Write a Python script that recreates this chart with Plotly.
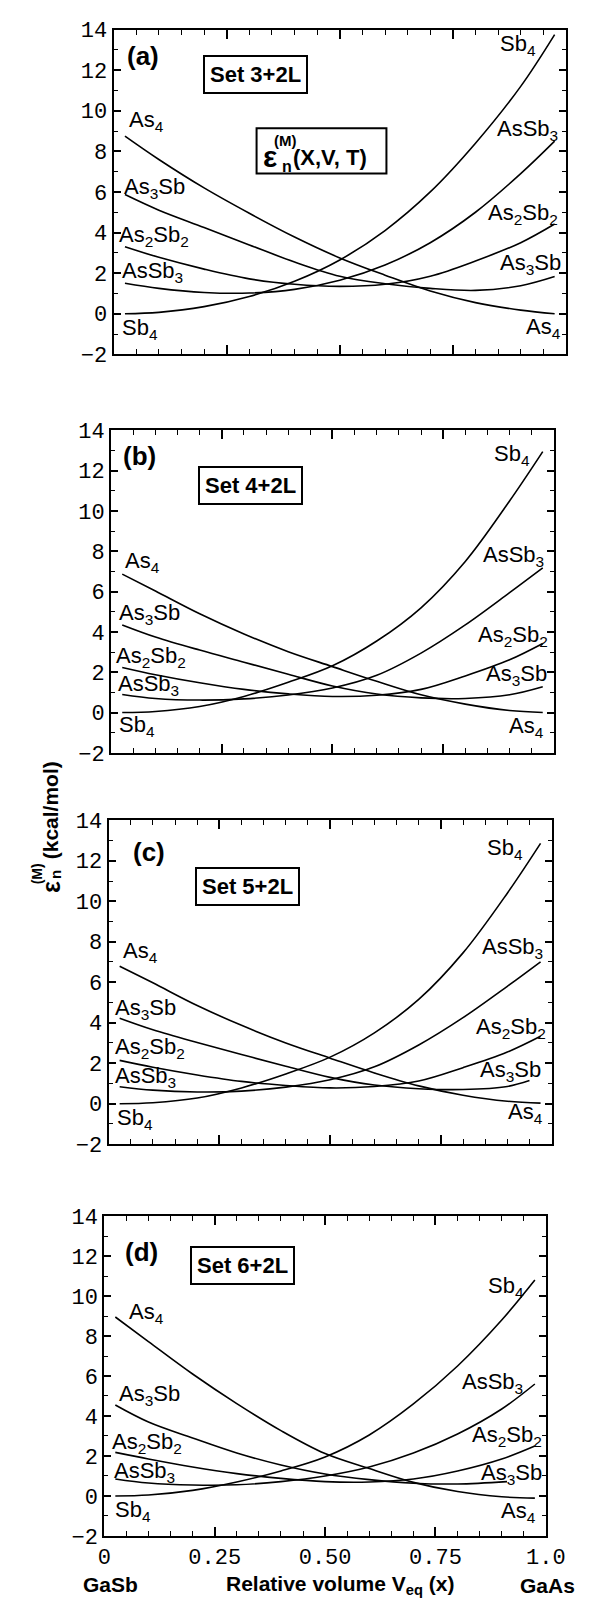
import plotly.graph_objects as go

# ---------------- data ----------------
X = [0.025, 0.1, 0.2, 0.3, 0.4, 0.5, 0.6, 0.7, 0.8, 0.9, 0.975]
X_c_As3Sb = [0.025, 0.1, 0.2, 0.3, 0.4, 0.5, 0.6, 0.7, 0.8, 0.9, 0.95]
X_d_As3Sb = [0.025, 0.1, 0.2, 0.3, 0.4, 0.5, 0.6, 0.7, 0.8, 0.912]

species = ["As4", "As3Sb", "As2Sb2", "AsSb3", "Sb4"]

a_As4 = [8.75, 7.6, 6.2, 4.95, 3.78, 2.75, 1.9, 1.12, 0.55, 0.18, 0.0]
a_As3Sb = [5.87, 5.1, 4.25, 3.39, 2.55, 1.85, 1.48, 1.25, 1.15, 1.38, 1.83]
a_As2Sb2 = [3.3, 2.78, 2.2, 1.72, 1.45, 1.35, 1.45, 1.85, 2.6, 3.5, 4.42]
a_AsSb3 = [1.5, 1.25, 1.05, 1.02, 1.2, 1.65, 2.4, 3.5, 5.0, 6.9, 8.5]
a_Sb4 = [0.0, 0.07, 0.35, 0.85, 1.6, 2.65, 4.1, 6.0, 8.4, 11.2, 13.75]

b_As4 = [6.87, 6.03, 4.9, 3.9, 3.02, 2.28, 1.55, 0.88, 0.42, 0.1, 0.0]
b_As3Sb = [4.35, 3.75, 3.1, 2.5, 1.9, 1.32, 0.92, 0.73, 0.7, 0.88, 1.28]
b_As2Sb2 = [2.24, 1.88, 1.48, 1.15, 0.93, 0.8, 0.86, 1.15, 1.82, 2.62, 3.43]
b_AsSb3 = [0.9, 0.7, 0.62, 0.68, 0.87, 1.22, 1.85, 2.95, 4.35, 5.95, 7.18]
b_Sb4 = [0.0, 0.05, 0.3, 0.8, 1.5, 2.32, 3.55, 5.2, 7.5, 10.5, 12.95]

c_As4 = [6.79, 5.97, 4.85, 3.87, 3.0, 2.25, 1.52, 0.88, 0.42, 0.12, 0.03]
c_As3Sb = [4.22, 3.65, 3.02, 2.43, 1.85, 1.3, 0.92, 0.74, 0.7, 0.85, 1.14]
c_As2Sb2 = [2.14, 1.8, 1.42, 1.1, 0.9, 0.78, 0.85, 1.12, 1.78, 2.55, 3.33]
c_AsSb3 = [0.84, 0.67, 0.58, 0.62, 0.82, 1.18, 1.82, 2.9, 4.25, 5.8, 7.01]
c_Sb4 = [0.0, 0.05, 0.28, 0.78, 1.47, 2.3, 3.5, 5.15, 7.45, 10.4, 12.86]

d_As4 = [8.95, 7.72, 6.1, 4.62, 3.27, 2.12, 1.37, 0.68, 0.22, -0.04, -0.11]
d_As3Sb = [4.55, 3.7, 2.9, 2.15, 1.55, 1.1, 0.82, 0.64, 0.6, 0.72]
d_As2Sb2 = [2.18, 1.85, 1.45, 1.12, 0.88, 0.72, 0.7, 0.85, 1.25, 1.85, 2.5]
d_AsSb3 = [0.85, 0.65, 0.55, 0.56, 0.72, 1.0, 1.45, 2.15, 3.1, 4.35, 5.6]
d_Sb4 = [0.0, 0.05, 0.28, 0.7, 1.25, 1.95, 3.05, 4.6, 6.5, 8.8, 10.8]

panel_letters = ["(a)", "(b)", "(c)", "(d)"]
set_names = ["Set 3+2L", "Set 4+2L", "Set 5+2L", "Set 6+2L"]
x_tickvals = [0, 0.25, 0.5, 0.75, 1.0]
x_ticktext = ["0", "0.25", "0.50", "0.75", "1.0"]
y_tickvals = [-2, 0, 2, 4, 6, 8, 10, 12, 14]
y_ticktext = ["\u22122", "0", "2", "4", "6", "8", "10", "12", "14"]

label_text = {"As4": "As<sub>4</sub>", "As3Sb": "As<sub>3</sub>Sb",
              "As2Sb2": "As<sub>2</sub>Sb<sub>2</sub>",
              "AsSb3": "AsSb<sub>3</sub>", "Sb4": "Sb<sub>4</sub>"}

panels = [
    {"xs": {s: X for s in species},
     "ys": {"As4": a_As4, "As3Sb": a_As3Sb, "As2Sb2": a_As2Sb2, "AsSb3": a_AsSb3, "Sb4": a_Sb4}},
    {"xs": {s: X for s in species},
     "ys": {"As4": b_As4, "As3Sb": b_As3Sb, "As2Sb2": b_As2Sb2, "AsSb3": b_AsSb3, "Sb4": b_Sb4}},
    {"xs": {**{s: X for s in species}, "As3Sb": X_c_As3Sb},
     "ys": {"As4": c_As4, "As3Sb": c_As3Sb, "As2Sb2": c_As2Sb2, "AsSb3": c_AsSb3, "Sb4": c_Sb4}},
    {"xs": {**{s: X for s in species}, "As3Sb": X_d_As3Sb},
     "ys": {"As4": d_As4, "As3Sb": d_As3Sb, "As2Sb2": d_As2Sb2, "AsSb3": d_AsSb3, "Sb4": d_Sb4}},
]

# ---------------- layout geometry (pixels in a 598x1604 page) ----------------
W, H = 598, 1604
frames = [  # left, right, top, bottom
    (103.3, 577.0, 11.7, 341.7),
    (100.7, 564.3, 419.0, 746.5),
    (98.0, 562.0, 815.0, 1144.0),
    (93.5, 556.0, 1217.0, 1542.0),
]
left_pos = [
    {"As4": (0.029, 9.5), "As3Sb": (0.018, 6.2), "As2Sb2": (0.007, 3.85), "AsSb3": (0.014, 2.05), "Sb4": (0.014, -0.75)},
    {"As4": (0.026, 7.46), "As3Sb": (0.013, 4.89), "As2Sb2": (0.007, 2.74), "AsSb3": (0.011, 1.35), "Sb4": (0.013, -0.65)},
    {"As4": (0.029, 7.47), "As3Sb": (0.011, 4.68), "As2Sb2": (0.011, 2.76), "AsSb3": (0.011, 1.3), "Sb4": (0.015, -0.76)},
    {"As4": (0.052, 9.13), "As3Sb": (0.029, 5.04), "As2Sb2": (0.013, 2.67), "AsSb3": (0.018, 1.19), "Sb4": (0.02, -0.74)},
]
right_pos = [
    {"Sb4": (0.939, 13.25), "AsSb3": (0.987, 9.05), "As2Sb2": (0.987, 4.92), "As3Sb": (0.994, 2.43), "As4": (0.994, -0.68)},
    {"Sb4": (0.95, 12.8), "AsSb3": (0.983, 7.75), "As2Sb2": (0.992, 3.8), "As3Sb": (0.99, 1.85), "As4": (0.983, -0.73)},
    {"Sb4": (0.941, 12.58), "AsSb3": (0.986, 7.68), "As2Sb2": (0.992, 3.73), "As3Sb": (0.98, 1.59), "As4": (0.986, -0.44)},
    {"Sb4": (0.955, 10.44), "AsSb3": (0.952, 5.63), "As2Sb2": (0.995, 3.0), "As3Sb": (0.995, 1.11), "As4": (0.983, -0.82)},
]
letter_pos = [(134, 39), (130, 445), (140, 847), (133, 1254)]
setbox_pos = [(252, 57.5), (246.5, 475), (243, 882), (238, 1267)]


def px(xp):
    return xp / W


def py(yp):
    return 1 - yp / H


SANS = "Liberation Sans"
MONO = "Liberation Mono"
LABEL_SIZE = 22

fig = go.Figure()
annotations = []
shapes = []
layout_axes = {}

for i, p in enumerate(panels):
    k = "" if i == 0 else str(i + 1)
    xa, ya = "x" + k, "y" + k
    for s in species:
        fig.add_trace(go.Scatter(
            x=p["xs"][s], y=p["ys"][s], mode="lines",
            line=dict(color="black", width=1.6, shape="spline", smoothing=1.0),
            xaxis=xa, yaxis=ya, showlegend=False, hoverinfo="skip"))
    l, r, t, b = frames[i]
    layout_axes["xaxis" + k] = dict(
        domain=[px(l), px(r)], range=[0, 1], anchor=ya,
        showline=True, linecolor="black", linewidth=2, mirror="ticks",
        ticks="inside", ticklen=9, tickwidth=1.5, tickcolor="black",
        tickvals=x_tickvals, ticktext=x_ticktext,
        showticklabels=(i == 3),
        tickfont=dict(family=MONO, size=22, color="black"),
        minor=dict(dtick=0.05, tick0=0, ticks="inside", ticklen=5, tickwidth=1.2, tickcolor="black"),
        showgrid=False, zeroline=False, fixedrange=True)
    layout_axes["yaxis" + k] = dict(
        domain=[py(b), py(t)], range=[-2, 14], anchor=xa,
        showline=True, linecolor="black", linewidth=2, mirror="ticks",
        ticks="inside", ticklen=7, tickwidth=1.5, tickcolor="black",
        tickvals=y_tickvals, ticktext=y_ticktext,
        tickfont=dict(family=MONO, size=22, color="black"),
        minor=dict(dtick=1, tick0=0, ticks="inside", ticklen=4, tickwidth=1.2, tickcolor="black"),
        showgrid=False, zeroline=False, fixedrange=True)

    for s in species:
        lx, ly = left_pos[i][s]
        annotations.append(dict(x=lx, y=ly, xref=xa, yref=ya, text=label_text[s],
                                showarrow=False, xanchor="left", yanchor="middle",
                                font=dict(family=SANS, size=LABEL_SIZE, color="black")))
        rx, ry = right_pos[i][s]
        annotations.append(dict(x=rx, y=ry, xref=xa, yref=ya, text=label_text[s],
                                showarrow=False, xanchor="right", yanchor="middle",
                                font=dict(family=SANS, size=LABEL_SIZE, color="black")))
    lx, ly = letter_pos[i]
    annotations.append(dict(x=px(lx), y=py(ly), xref="paper", yref="paper",
                            text="<b>%s</b>" % panel_letters[i], showarrow=False,
                            xanchor="center", yanchor="middle",
                            font=dict(family=SANS, size=26, color="black")))
    sx, sy = setbox_pos[i]
    annotations.append(dict(x=px(sx), y=py(sy), xref="paper", yref="paper",
                            text="<b>%s</b>" % set_names[i], showarrow=False,
                            xanchor="center", yanchor="middle",
                            bordercolor="black", borderwidth=2, borderpad=5,
                            bgcolor="white",
                            font=dict(family=SANS, size=22, color="black")))

# formula box in panel (a)
shapes.append(dict(type="rect", xref="paper", yref="paper",
                   x0=px(253), x1=px(389), y0=py(158), y1=py(112),
                   line=dict(color="black", width=2)))
bold = dict(family=SANS, color="black")
annotations += [
    dict(x=px(267), y=py(141), xref="paper", yref="paper", text="<b>ε</b>",
         showarrow=False, xanchor="center", yanchor="middle", font=dict(size=30, **bold)),
    dict(x=px(283), y=py(124), xref="paper", yref="paper", text="<b>(M)</b>",
         showarrow=False, xanchor="center", yanchor="middle", font=dict(size=15, **bold)),
    dict(x=px(285), y=py(151), xref="paper", yref="paper", text="<b>n</b>",
         showarrow=False, xanchor="center", yanchor="middle", font=dict(size=16, **bold)),
    dict(x=px(289), y=py(142), xref="paper", yref="paper", text="<b>(X,V, T)</b>",
         showarrow=False, xanchor="left", yanchor="middle", font=dict(size=22, **bold)),
]

# y-axis title (rotated, built from pieces so (M) sits over n)
annotations += [
    dict(x=px(37.5), y=py(805), xref="paper", yref="paper", text="<b>(kcal/mol)</b>",
         textangle=-90, showarrow=False, xanchor="center", yanchor="middle", font=dict(size=21, **bold)),
    dict(x=px(37.5), y=py(883), xref="paper", yref="paper", text="<b>ε</b>",
         textangle=-90, showarrow=False, xanchor="center", yanchor="middle", font=dict(size=25, **bold)),
    dict(x=px(24), y=py(869), xref="paper", yref="paper", text="<b>(M)</b>",
         textangle=-90, showarrow=False, xanchor="center", yanchor="middle", font=dict(size=14, **bold)),
    dict(x=px(42.5), y=py(870), xref="paper", yref="paper", text="<b>n</b>",
         textangle=-90, showarrow=False, xanchor="center", yanchor="middle", font=dict(size=15, **bold)),
]

# x-axis title and end-member labels
annotations += [
    dict(x=px(340), y=py(1592), xref="paper", yref="paper",
         text="<b>Relative volume V<sub>eq</sub> (x)</b>", showarrow=False,
         xanchor="center", yanchor="middle", font=dict(size=21, **bold)),
    dict(x=px(99.5), y=py(1591), xref="paper", yref="paper", text="<b>GaSb</b>",
         showarrow=False, xanchor="center", yanchor="middle", font=dict(size=21, **bold)),
    dict(x=px(558), y=py(1592), xref="paper", yref="paper", text="<b>GaAs</b>",
         showarrow=False, xanchor="center", yanchor="middle", font=dict(size=21, **bold)),
]

fig.update_layout(
    width=W, height=H, margin=dict(l=0, r=0, t=0, b=0),
    paper_bgcolor="white", plot_bgcolor="white",
    annotations=annotations, shapes=shapes, showlegend=False,
    **layout_axes)

fig.write_html("out.html")
